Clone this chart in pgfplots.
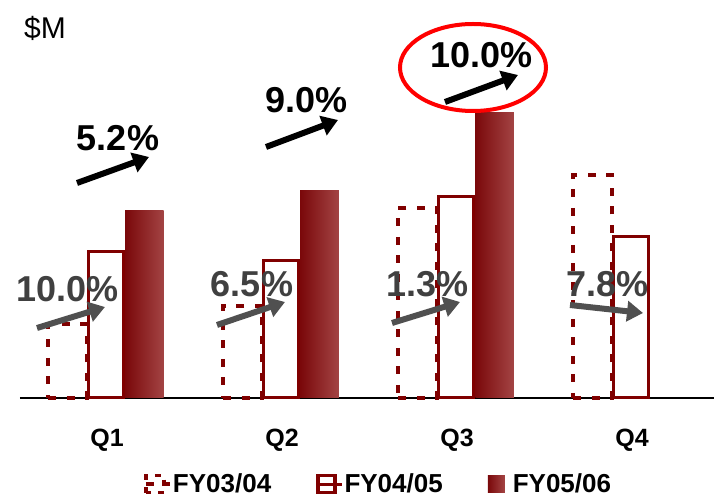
\documentclass[border=0pt]{standalone}
\usepackage{pgfplots}
\pgfplotsset{compat=1.18}
\usepackage{fontspec}
\setmainfont{Liberation Sans}
\usetikzlibrary{arrows.meta}

\definecolor{maroon}{RGB}{128,0,0}
\definecolor{barleft}{RGB}{122,8,10}
\definecolor{barright}{RGB}{163,68,68}
\definecolor{arrowgray}{RGB}{80,80,80}
\definecolor{labelgray}{RGB}{64,64,64}

\newcommand\pctfont{\fontsize{36}{40}\selectfont\bfseries}

\pgfplotsset{
  shadedbar/.style={ybar, bar shift=0pt, bar width=0.22, draw=none,
    left color=barleft, right color=barright},
}

\begin{document}
\begin{tikzpicture}
\begin{axis}[
  at={(0,0)}, anchor=south west,
  scale only axis, width=694pt, height=398pt,
  xmin=-0.4914, xmax=3.4743, ymin=0, ymax=398,
  axis x line*=bottom, axis y line=none,
  x axis line style={line width=1.2pt, -},
  ytick=\empty,
  xtick={0,1,2,3}, xticklabels={Q1,Q2,Q3,Q4},
  major tick length=0pt,
  xticklabel style={anchor=base, yshift=-48.5pt, xshift=1pt, inner sep=0pt,
    font=\fontsize{25}{28}\selectfont\bfseries},
  clip=false,
  legend columns=3,
  legend style={at={(0.5159,-0.2161)}, anchor=center, draw=none, fill=none,
    font=\fontsize{26}{30}\selectfont\bfseries,
    nodes={inner sep=1pt},
    /tikz/every even column/.append style={column sep=44pt}},
]

% FY03/04: dashed outline bars
\addplot[ybar, bar shift=0pt, bar width=0.22, draw=maroon, line width=4pt,
  dash pattern=on 8pt off 10.5pt, fill=none,
  legend image code/.code={%
    \draw[maroon, line width=3.5pt, dash pattern=on 6pt off 7pt]
      (0pt,-8.5pt) rectangle (18pt,8.5pt);
    \path (0pt,0pt) -- (24pt,0pt);}]
  coordinates {(-0.22,74) (0.78,92) (1.78,190) (2.78,223)};
\addlegendentry{FY03/04}

% FY04/05: white bars with solid outline
\addplot[ybar, bar shift=0pt, bar width=0.203, draw=maroon, line width=3pt, fill=white,
  legend image code/.code={%
    \draw[maroon, line width=3.5pt, fill=white]
      (0pt,-8.5pt) rectangle (17pt,8.5pt);
    \path (0pt,0pt) -- (24pt,0pt);}]
  coordinates {(0,146) (1,137.5) (2,201.5) (3,161.5)};
\addlegendentry{FY04/05}

% FY05/06: shaded bars, one plot per bar so each bar gets its own gradient
\addplot[shadedbar,
  legend image code/.code={%
    \shade[left color=barleft, right color=barright]
      (0pt,-8.5pt) rectangle (17pt,8.5pt);
    \path (0pt,0pt) -- (24pt,0pt);}]
  coordinates {(0.22,187)};
\addlegendentry{FY05/06}
\addplot[shadedbar, forget plot] coordinates {(1.22,207)};
\addplot[shadedbar, forget plot] coordinates {(2.22,285)};

% unit label
\node[anchor=base west, inner sep=0pt, font=\fontsize{30}{34}\selectfont]
  at (axis cs:-0.4686,359) {\$M};

% year-on-year growth FY03/04 -> FY04/05
\draw[arrowgray, line width=6pt, -{Triangle[length=16pt,width=20pt]}]
  (axis cs:-0.3943,70) -- (axis cs:-0.0057,91);
\draw[arrowgray, line width=6pt, -{Triangle[length=16pt,width=20pt]}]
  (axis cs:0.6343,73) -- (axis cs:1.0229,96);
\draw[arrowgray, line width=6pt, -{Triangle[length=16pt,width=20pt]}]
  (axis cs:1.6343,75) -- (axis cs:2.0229,96);
\draw[arrowgray, line width=6pt, -{Triangle[length=16pt,width=20pt]}]
  (axis cs:2.6514,93) -- (axis cs:3.0686,85);
\node[anchor=base, inner sep=0pt, text=labelgray, font=\pctfont] at (axis cs:-0.22,96) {10.0\%};
\node[anchor=base, inner sep=0pt, text=labelgray, font=\pctfont] at (axis cs:0.8343,101) {6.5\%};
\node[anchor=base, inner sep=0pt, text=labelgray, font=\pctfont] at (axis cs:1.8371,101) {1.3\%};
\node[anchor=base, inner sep=0pt, text=labelgray, font=\pctfont] at (axis cs:2.8657,101) {7.8\%};

% year-on-year growth FY04/05 -> FY05/06
\draw[red, line width=4pt] (axis cs:2.0971,330.5) ellipse [x radius=73pt, y radius=43.5pt];
\draw[black, line width=6pt, -{Triangle[length=16pt,width=20pt]}]
  (axis cs:-0.1657,215) -- (axis cs:0.2457,241);
\draw[black, line width=6pt, -{Triangle[length=16pt,width=20pt]}]
  (axis cs:0.9143,251) -- (axis cs:1.3257,278);
\draw[black, line width=6pt, -{Triangle[length=16pt,width=20pt]}]
  (axis cs:1.9371,296) -- (axis cs:2.3543,323);
\node[anchor=base, inner sep=0pt, font=\pctfont] at (axis cs:0.0686,247) {5.2\%};
\node[anchor=base, inner sep=0pt, font=\pctfont] at (axis cs:1.1457,285) {9.0\%};
\node[anchor=base, inner sep=0pt, font=\pctfont] at (axis cs:2.1457,330) {10.0\%};
\end{axis}
\pgfresetboundingbox
\useasboundingbox (-20pt,-99pt) rectangle (694pt,398pt);
\end{tikzpicture}
\end{document}
